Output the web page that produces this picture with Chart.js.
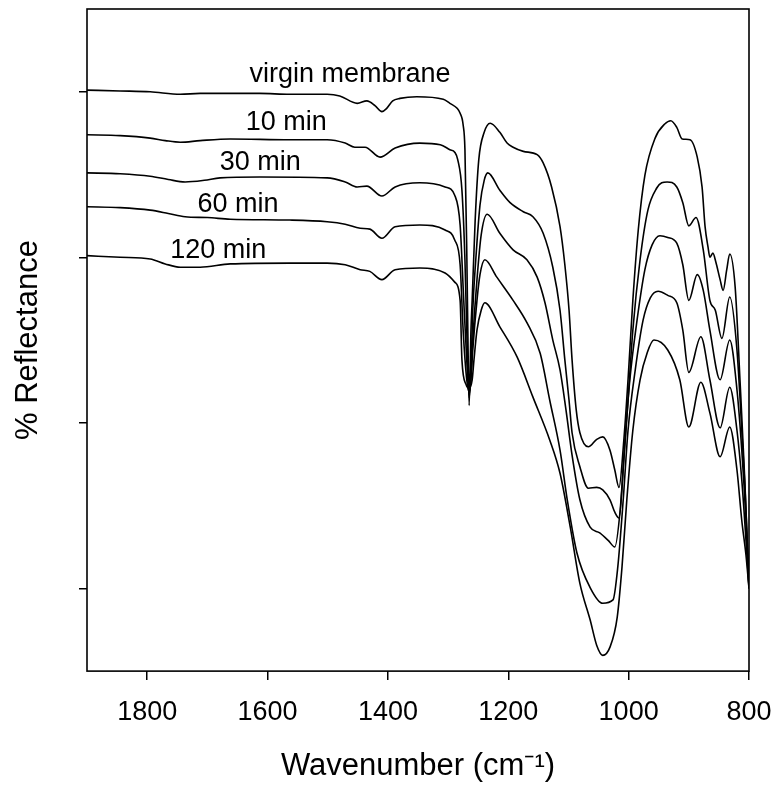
<!DOCTYPE html>
<html><head><meta charset="utf-8">
<script src="https://cdn.jsdelivr.net/npm/chart.js@4/dist/chart.umd.min.js"></script>
<style>html,body{margin:0;padding:0;background:#fff}#wrap{width:779px;height:794px}</style>
</head><body><div id="wrap"><canvas id="c" width="779" height="794"></canvas></div>
<script>
// ---- data (wavenumber in cm-1, reflectance in arbitrary %) ----
const seriesNames = ['virgin membrane', '10 min', '30 min', '60 min', '120 min'];

const virginWn = [1900,1845,1795,1745,1712,1662,1613,1563,1501,1480,1451,1435,1421,1410,1402,1392,1380,1352,1308,1297,1285,1280,1275,1272,1269,1267,1265,1262,1260,1255,1249,1240,1230,1214,1202,1192,1175,1152,1142,1128,1114,1106,1099,1094,1087,1081,1067,1053,1043,1031,1023,1016,1008,1001,993,984,973,956,940,930,920,911,898,886,878,873,868,865,860,855,848,843,837,832,823,815,807,800];
const virginR  = [80.2,80.1,80.0,79.7,79.8,79.8,79.8,79.7,79.7,79.5,78.6,78.9,78.3,77.6,78.0,78.9,79.2,79.4,79.1,78.6,78.0,77.4,76.0,73.0,60.9,50.0,42.1,51.2,54.8,64.5,71.8,75.1,76.2,75.1,73.8,73.3,72.8,72.4,71.4,68.5,63.7,59.1,53.6,47.6,41.5,38.8,37.1,38.0,38.3,36.7,34.3,32.2,37.9,45.2,54.8,63.3,69.9,74.4,76.1,76.5,75.7,74.3,74.2,72.1,68.5,63.7,61.2,60.0,60.5,59.4,57.3,56.0,58.5,60.4,56.4,45.2,33.1,20.1];

const min10Wn = [1900,1845,1795,1770,1745,1712,1662,1563,1501,1471,1455,1438,1413,1388,1347,1313,1297,1289,1284,1277,1272,1269,1265,1262,1259,1254,1247,1240,1234,1214,1197,1175,1159,1142,1126,1114,1106,1099,1094,1081,1067,1053,1043,1031,1023,1016,1008,1001,993,981,968,953,945,936,920,910,900,888,876,865,856,845,832,820,812,805,800];
const min10R  = [74.8,74.7,74.4,74.1,73.9,74.1,74.3,74.2,74.2,73.8,73.3,73.3,72.1,73.2,73.8,73.6,73.0,72.7,71.8,68.1,59.7,51.2,43.0,46.4,53.6,59.7,66.3,69.3,70.2,68.1,66.6,65.5,64.9,62.9,58.8,53.6,47.6,42.7,38.8,34.7,32.1,32.2,31.9,30.7,29.2,28.5,35.5,42.7,51.2,59.7,65.7,68.4,69.0,69.1,68.5,66.6,63.8,64.8,60.9,54.8,53.6,50.2,55.2,48.8,39.1,29.5,20.0];

const min30Wn = [1900,1845,1795,1765,1737,1705,1679,1613,1501,1471,1451,1435,1410,1388,1347,1305,1289,1280,1274,1269,1265,1262,1259,1252,1245,1235,1214,1192,1169,1152,1139,1126,1114,1104,1094,1081,1064,1048,1034,1023,1014,1006,998,986,973,961,948,935,920,910,900,886,876,865,848,832,820,812,805,800];
const min30R  = [70.2,70.1,69.8,69.4,69.1,69.3,69.6,69.7,69.6,69.1,68.5,68.6,67.4,68.5,69.0,68.5,67.5,63.9,54.8,47.6,43.4,45.8,50.0,57.3,62.7,65.2,62.9,60.9,59.7,57.6,54.5,50.0,46.4,41.5,36.1,30.7,27.4,26.7,25.8,25.0,29.5,37.9,45.2,52.4,58.5,61.5,62.6,62.4,61.7,59.1,54.8,57.9,56.0,51.2,45.2,50.0,44.0,36.7,28.2,20.0];

const min60Wn = [1900,1845,1795,1765,1737,1700,1662,1563,1501,1471,1446,1430,1410,1388,1347,1305,1289,1280,1275,1269,1265,1262,1259,1252,1247,1239,1219,1192,1169,1147,1131,1114,1102,1086,1064,1043,1026,1018,1009,1001,989,976,964,951,935,920,910,900,880,865,848,832,820,812,805,800];
const min60R  = [66.1,66.0,65.7,65.3,64.9,64.8,64.6,64.5,64.3,64.0,63.5,63.4,62.3,63.7,63.9,63.3,62.1,59.1,51.2,45.2,43.7,45.2,48.8,54.8,57.9,59.7,57.6,54.8,52.1,48.4,42.7,36.7,30.7,24.3,20.1,18.2,18.6,22.6,30.7,39.1,46.4,52.4,55.1,55.9,55.4,54.5,51.2,46.1,50.4,45.2,39.4,44.3,39.1,33.1,25.8,20.0];

const min120Wn = [1900,1845,1795,1770,1745,1712,1662,1563,1501,1471,1446,1430,1410,1388,1347,1305,1289,1280,1277,1270,1265,1260,1257,1252,1245,1239,1214,1185,1159,1131,1114,1097,1081,1064,1053,1043,1031,1019,1011,1003,993,981,969,958,935,915,900,880,865,848,832,820,812,805,800];
const min120R  = [60.2,60.0,59.8,59.2,58.8,58.8,59.2,59.3,59.3,59.1,58.5,58.3,57.3,58.5,58.7,58.1,57.0,54.8,47.6,44.6,44.2,45.2,47.6,51.2,53.6,54.5,51.6,47.9,43.1,37.9,33.9,27.4,20.6,16.2,13.1,11.9,12.9,16.5,22.6,30.7,39.1,45.2,48.5,50.0,48.8,45.2,39.5,44.9,41.2,35.9,39.5,34.3,28.2,24.0,20.0];

const xTicks = [1800, 1600, 1400, 1200, 1000, 800];
const yTicks = [20, 40, 60, 80];

// curve label anchors (data coordinates: wavenumber, reflectance at text baseline)
const labelWn = [1463, 1569, 1612, 1649, 1682];
const labelR  = [81.2, 75.4, 70.5, 65.5, 59.9];

// ---- chart ----
const FONT = "'Liberation Sans', Arial, Helvetica, sans-serif";
const seriesWn = [virginWn, min10Wn, min30Wn, min60Wn, min120Wn];
const seriesR  = [virginR, min10R, min30R, min60R, min120R];

const datasets = seriesNames.map((name, k) => ({
  label: name,
  data: seriesWn[k].map((x, i) => ({ x: x, y: seriesR[k][i] })),
  borderColor: '#000',
  borderWidth: 1.6,
  pointRadius: 0,
  fill: false,
  cubicInterpolationMode: 'monotone'
}));

const framePlugin = {
  id: 'frame',
  afterDatasetsDraw(chart) {
    const { ctx, chartArea: a, scales } = chart;
    ctx.save();
    ctx.strokeStyle = '#000';
    ctx.lineWidth = 1.6;
    ctx.strokeRect(a.left, a.top, a.right - a.left, a.bottom - a.top);
    ctx.fillStyle = '#000';
    ctx.font = '27px ' + FONT;
    ctx.textAlign = 'center';
    ctx.textBaseline = 'alphabetic';
    seriesNames.forEach((t, i) => {
      ctx.fillText(t, scales.x.getPixelForValue(labelWn[i]), scales.y.getPixelForValue(labelR[i]));
    });
    ctx.restore();
  }
};

new Chart(document.getElementById('c'), {
  type: 'line',
  data: { datasets },
  options: {
    responsive: false,
    devicePixelRatio: 1,
    animation: false,
    layout: { padding: { top: 9, right: 30, bottom: 0, left: 0 } },
    plugins: { legend: { display: false }, tooltip: { enabled: false } },
    scales: {
      x: {
        type: 'linear',
        reverse: true,
        min: 800, max: 1900,
        afterBuildTicks: s => { s.ticks = xTicks.map(v => ({ value: v })); },
        border: { display: false },
        grid: { display: true, drawOnChartArea: false, drawTicks: true, tickLength: 9, color: '#000', lineWidth: 1.5 },
        ticks: { color: '#000', padding: 0, maxRotation: 0, callback: v => String(v), font: { family: FONT, size: 27, lineHeight: 2.37 } },
        title: { display: true, text: 'Wavenumber (cm\u207B\u00B9)', color: '#000', font: { family: FONT, size: 31 }, padding: { top: 3.7, bottom: 9 } }
      },
      y: {
        type: 'linear',
        min: 10, max: 90,
        afterBuildTicks: s => { s.ticks = yTicks.map(v => ({ value: v })); },
        border: { display: false },
        grid: { display: true, drawOnChartArea: false, drawTicks: true, tickLength: 8, color: '#000', lineWidth: 1.5 },
        ticks: { display: false },
        title: { display: true, text: '% Reflectance', color: '#000', font: { family: FONT, size: 31 }, padding: { top: 10, bottom: 31.8 } }
      }
    }
  },
  plugins: [framePlugin]
});
</script>
</body></html>
